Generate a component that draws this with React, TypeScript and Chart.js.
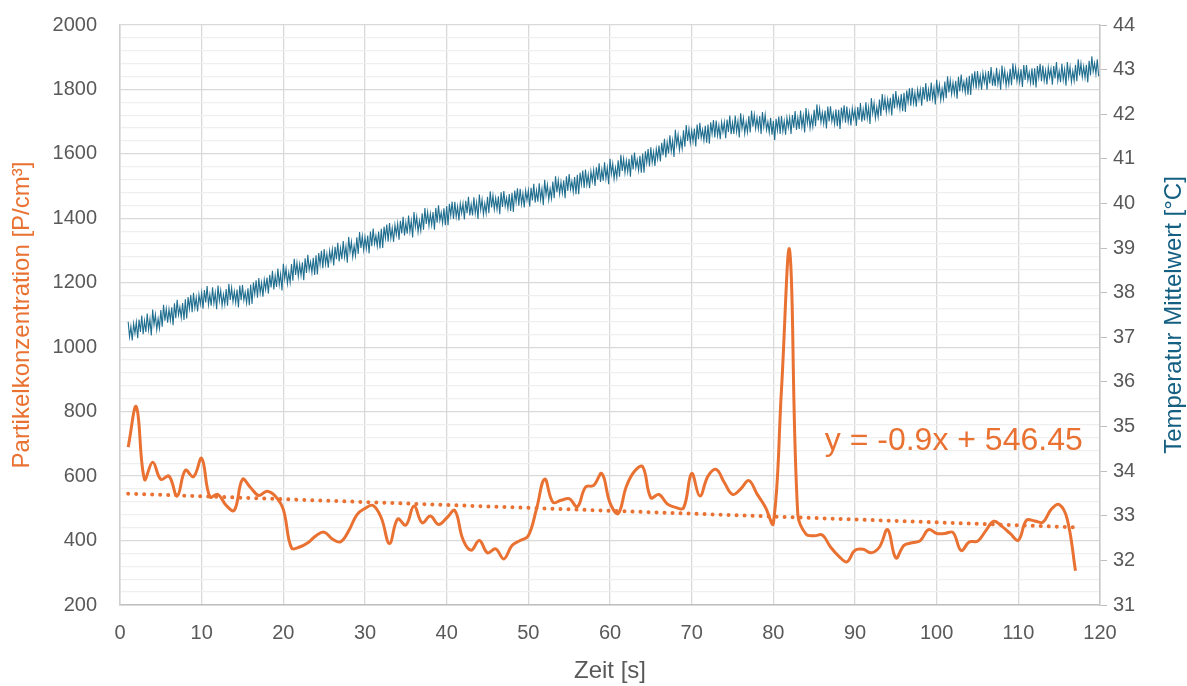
import React, { useEffect, useRef } from 'react';
import { Chart, registerables } from 'chart.js';

Chart.register(...registerables);

// ---------- data ----------
const particleStartSecond = 1;
const particleValues = [
  690, 815, 590, 643, 590, 600, 538, 618, 598, 655,
  536, 543, 509, 494, 590, 564, 540, 553, 538, 496,
  377, 380, 393, 415, 426, 405, 396, 430, 480, 500,
  509, 470, 391, 467, 448, 507, 455, 476, 450, 470,
  493, 403, 370, 400, 362, 374, 343, 385, 400, 415,
  498, 591, 519, 525, 530, 505, 566, 571, 608, 517,
  484, 568, 615, 629, 533, 543, 514, 503, 501, 608,
  538, 600, 621, 580, 543, 560, 586, 545, 505, 453,
  870, 1300, 480, 420, 415, 417, 380, 352, 334, 370,
  373, 362, 380, 434, 346, 385, 393, 400, 434, 422,
  422, 425, 369, 396, 398, 430, 460, 444, 422, 401,
  463, 461, 457, 496, 512, 465, 306,
];

const trendSlope = -0.9;
const trendIntercept = 546.45;
const trendFrom = 1;
const trendTo = 117;
const equationText = 'y = -0.9x + 546.45';

const tempStartSecond = 1;
const tempSamplesPerSecond = 6;
const temperatureValues = [
  37.35, 37.01, 37.24, 36.93, 37.31, 37.09, 37.34, 36.98, 37.40, 37.12, 37.49, 37.07,
  37.37, 37.12, 37.53, 37.17, 37.41, 37.04, 37.62, 37.28, 37.51, 37.17, 37.42, 37.20,
  37.61, 37.24, 37.73, 37.37, 37.64, 37.33, 37.63, 37.38, 37.67, 37.27, 37.76, 37.43,
  37.84, 37.50, 37.68, 37.44, 37.77, 37.39, 37.85, 37.42, 37.90, 37.64, 37.95, 37.56,
  38.00, 37.66, 37.89, 37.58, 37.96, 37.74, 38.00, 37.64, 38.06, 37.78, 38.15, 37.73,
  37.96, 37.71, 38.12, 37.76, 38.00, 37.63, 38.16, 37.82, 38.05, 37.71, 37.96, 37.74,
  38.08, 37.71, 38.20, 37.84, 38.11, 37.80, 38.03, 37.78, 38.07, 37.67, 38.16, 37.83,
  38.17, 37.83, 38.01, 37.77, 38.10, 37.72, 38.18, 37.75, 38.23, 37.97, 38.28, 37.89,
  38.33, 37.99, 38.22, 37.91, 38.29, 38.07, 38.34, 37.98, 38.40, 38.12, 38.49, 38.07,
  38.38, 38.13, 38.54, 38.18, 38.42, 38.05, 38.65, 38.31, 38.54, 38.20, 38.45, 38.23,
  38.64, 38.27, 38.76, 38.40, 38.67, 38.36, 38.64, 38.39, 38.68, 38.28, 38.77, 38.44,
  38.85, 38.51, 38.69, 38.45, 38.78, 38.40, 38.84, 38.41, 38.89, 38.63, 38.94, 38.55,
  38.98, 38.64, 38.87, 38.56, 38.94, 38.72, 38.97, 38.61, 39.03, 38.75, 39.12, 38.70,
  39.00, 38.75, 39.16, 38.80, 39.04, 38.67, 39.25, 38.91, 39.14, 38.80, 39.05, 38.83,
  39.24, 38.87, 39.36, 39.00, 39.27, 38.96, 39.24, 38.99, 39.28, 38.88, 39.37, 39.04,
  39.44, 39.10, 39.28, 39.04, 39.37, 38.99, 39.43, 39.00, 39.48, 39.22, 39.53, 39.14,
  39.56, 39.22, 39.45, 39.14, 39.52, 39.30, 39.55, 39.19, 39.61, 39.33, 39.70, 39.28,
  39.57, 39.32, 39.73, 39.37, 39.61, 39.24, 39.81, 39.47, 39.70, 39.36, 39.61, 39.39,
  39.78, 39.41, 39.90, 39.54, 39.81, 39.50, 39.77, 39.52, 39.81, 39.41, 39.90, 39.57,
  39.96, 39.62, 39.80, 39.56, 39.89, 39.51, 39.94, 39.51, 39.99, 39.73, 40.04, 39.65,
  40.04, 39.70, 39.93, 39.62, 40.00, 39.78, 40.00, 39.64, 40.06, 39.78, 40.15, 39.73,
  39.98, 39.73, 40.14, 39.78, 40.02, 39.65, 40.20, 39.86, 40.09, 39.75, 40.00, 39.78,
  40.15, 39.78, 40.27, 39.91, 40.18, 39.87, 40.12, 39.87, 40.16, 39.76, 40.25, 39.92,
  40.28, 39.94, 40.12, 39.88, 40.21, 39.83, 40.24, 39.81, 40.29, 40.03, 40.34, 39.95,
  40.33, 39.99, 40.22, 39.91, 40.29, 40.07, 40.29, 39.93, 40.35, 40.07, 40.44, 40.02,
  40.29, 40.04, 40.45, 40.09, 40.33, 39.96, 40.53, 40.19, 40.42, 40.08, 40.33, 40.11,
  40.49, 40.12, 40.61, 40.25, 40.52, 40.21, 40.48, 40.23, 40.52, 40.12, 40.61, 40.28,
  40.66, 40.32, 40.50, 40.26, 40.59, 40.21, 40.64, 40.21, 40.69, 40.43, 40.74, 40.35,
  40.76, 40.42, 40.65, 40.34, 40.72, 40.50, 40.75, 40.39, 40.81, 40.53, 40.90, 40.48,
  40.76, 40.51, 40.92, 40.56, 40.80, 40.43, 41.00, 40.66, 40.89, 40.55, 40.80, 40.58,
  40.97, 40.60, 41.09, 40.73, 41.00, 40.69, 40.96, 40.71, 41.00, 40.60, 41.09, 40.76,
  41.14, 40.80, 40.98, 40.74, 41.07, 40.69, 41.12, 40.69, 41.17, 40.91, 41.22, 40.83,
  41.26, 40.92, 41.15, 40.84, 41.22, 41.00, 41.30, 40.94, 41.36, 41.08, 41.45, 41.03,
  41.37, 41.12, 41.53, 41.17, 41.41, 41.04, 41.65, 41.31, 41.54, 41.20, 41.45, 41.23,
  41.64, 41.27, 41.76, 41.40, 41.67, 41.36, 41.64, 41.39, 41.68, 41.28, 41.77, 41.44,
  41.81, 41.47, 41.65, 41.41, 41.74, 41.36, 41.77, 41.34, 41.82, 41.56, 41.87, 41.48,
  41.86, 41.52, 41.75, 41.44, 41.82, 41.60, 41.82, 41.46, 41.88, 41.60, 41.97, 41.55,
  41.81, 41.56, 41.97, 41.61, 41.85, 41.48, 42.02, 41.68, 41.91, 41.57, 41.82, 41.60,
  41.96, 41.59, 42.08, 41.72, 41.99, 41.68, 41.92, 41.67, 41.96, 41.56, 42.05, 41.72,
  41.99, 41.65, 41.83, 41.59, 41.92, 41.54, 41.85, 41.42, 41.90, 41.64, 41.95, 41.56,
  41.96, 41.62, 41.85, 41.54, 41.92, 41.70, 41.92, 41.56, 41.98, 41.70, 42.07, 41.65,
  41.92, 41.67, 42.08, 41.72, 41.96, 41.59, 42.14, 41.80, 42.03, 41.69, 41.94, 41.72,
  42.10, 41.73, 42.22, 41.86, 42.13, 41.82, 42.04, 41.79, 42.08, 41.68, 42.17, 41.84,
  42.18, 41.84, 42.02, 41.78, 42.11, 41.73, 42.10, 41.67, 42.15, 41.89, 42.20, 41.81,
  42.17, 41.83, 42.06, 41.75, 42.13, 41.91, 42.10, 41.74, 42.16, 41.88, 42.25, 41.83,
  42.11, 41.86, 42.27, 41.91, 42.15, 41.78, 42.36, 42.02, 42.25, 41.91, 42.16, 41.94,
  42.33, 41.96, 42.45, 42.09, 42.36, 42.05, 42.33, 42.08, 42.37, 41.97, 42.46, 42.13,
  42.52, 42.18, 42.36, 42.12, 42.45, 42.07, 42.48, 42.05, 42.53, 42.27, 42.58, 42.19,
  42.59, 42.25, 42.48, 42.17, 42.55, 42.33, 42.55, 42.19, 42.61, 42.33, 42.70, 42.28,
  42.55, 42.30, 42.71, 42.35, 42.59, 42.22, 42.77, 42.43, 42.66, 42.32, 42.57, 42.35,
  42.73, 42.36, 42.85, 42.49, 42.76, 42.45, 42.71, 42.46, 42.75, 42.35, 42.84, 42.51,
  42.89, 42.55, 42.73, 42.49, 42.82, 42.44, 42.86, 42.43, 42.91, 42.65, 42.96, 42.57,
  42.97, 42.63, 42.86, 42.55, 42.93, 42.71, 42.91, 42.55, 42.97, 42.69, 43.06, 42.64,
  42.88, 42.63, 43.04, 42.68, 42.92, 42.55, 43.09, 42.75, 42.98, 42.64, 42.89, 42.67,
  43.02, 42.65, 43.14, 42.78, 43.05, 42.74, 42.97, 42.72, 43.01, 42.61, 43.10, 42.77,
  43.10, 42.76, 42.94, 42.70, 43.03, 42.65, 43.03, 42.60, 43.08, 42.82, 43.13, 42.74,
  43.09, 42.75, 42.98, 42.67, 43.05, 42.83, 43.02, 42.66, 43.08, 42.80, 43.17, 42.75,
  42.97, 42.72, 43.13, 42.77, 43.01, 42.64, 43.17, 42.83, 43.06, 42.72, 42.97, 42.75,
  43.11, 42.74, 43.23, 42.87, 43.14, 42.83, 43.07, 42.82, 43.11, 42.71, 43.20, 42.87,
  43.30, 42.96, 43.14, 42.90, 43.23, 42.85,
];

const xMin = 0;
const xMax = 120;
const xStep = 10;
const leftMin = 200;
const leftMax = 2000;
const leftMinorStep = 40;
const leftLabelStep = 200;
const rightMin = 31;
const rightMax = 44;
const rightStep = 1;

const xTitle = 'Zeit [s]';
const leftTitle = 'Partikelkonzentration [P/cm³]';
const rightTitle = 'Temperatur Mittelwert [°C]';

// ---------- styles ----------
const ORANGE = '#E97132';
const BLUE = '#1F6E8F';
const BLUE_TITLE = '#156082';
const TICK = '#595959';
const FONT = '"Liberation Sans", Arial, sans-serif';

const titlesPlugin = {
  id: 'customTitles',
  afterDatasetsDraw(chart: any) {
    const { ctx } = chart;
    const xs = chart.scales.x;
    const ys = chart.scales.y;
    ctx.save();
    ctx.font = `32px ${FONT}`;
    ctx.fillStyle = ORANGE;
    ctx.textAlign = 'left';
    ctx.textBaseline = 'middle';
    ctx.fillText(equationText, xs.getPixelForValue(86.3), ys.getPixelForValue(708));
    ctx.restore();
  },
  afterDraw(chart: any) {
    const { ctx, chartArea } = chart;
    const cy = (chartArea.top + chartArea.bottom) / 2;
    ctx.save();
    ctx.font = `24px ${FONT}`;
    ctx.textAlign = 'center';
    ctx.textBaseline = 'middle';
    ctx.save();
    ctx.translate(22, cy);
    ctx.rotate(-Math.PI / 2);
    ctx.fillStyle = ORANGE;
    ctx.fillText(leftTitle, 0, 0);
    ctx.restore();
    ctx.save();
    ctx.translate(1174, cy);
    ctx.rotate(-Math.PI / 2);
    ctx.fillStyle = BLUE_TITLE;
    ctx.fillText(rightTitle, 0, 0);
    ctx.restore();
    ctx.restore();
  },
};

export default function App() {
  const canvasRef = useRef<HTMLCanvasElement | null>(null);

  useEffect(() => {
    if (!canvasRef.current) return;
    const particleData = particleValues.map((v, i) => ({ x: particleStartSecond + i, y: v }));
    const tempData = temperatureValues.map((v, i) => ({ x: tempStartSecond + i / tempSamplesPerSecond, y: v }));
    const trendData = [
      { x: trendFrom, y: trendSlope * trendFrom + trendIntercept },
      { x: trendTo, y: trendSlope * trendTo + trendIntercept },
    ];

    const chart = new Chart(canvasRef.current, {
      type: 'line',
      data: {
        datasets: [
          {
            label: 'Temperatur',
            data: tempData,
            yAxisID: 'y2',
            borderColor: BLUE,
            borderWidth: 1.1,
            pointRadius: 0,
            tension: 0,
          },
          {
            label: 'Trend',
            data: trendData,
            yAxisID: 'y',
            borderColor: ORANGE,
            borderWidth: 4,
            borderDash: [0.01, 8],
            borderCapStyle: 'round',
            pointRadius: 0,
          },
          {
            label: 'Partikel',
            data: particleData,
            yAxisID: 'y',
            borderColor: ORANGE,
            borderWidth: 3,
            pointRadius: 0,
            tension: 0.4,
          },
        ],
      },
      options: {
        animation: false,
        responsive: false,
        layout: { padding: { top: 25, left: 0, right: 0, bottom: 0 } },
        plugins: { legend: { display: false }, tooltip: { enabled: false } },
        scales: {
          x: {
            type: 'linear',
            min: xMin,
            max: xMax,
            ticks: { stepSize: xStep, color: TICK, font: { size: 20, family: FONT }, padding: 16, maxRotation: 0 },
            grid: { color: '#d9d9d9', lineWidth: 1.3, drawTicks: false },
            border: { display: true, color: '#bfbfbf', width: 1.5 },
            title: { display: true, text: xTitle, color: TICK, font: { size: 24, family: FONT }, padding: { top: 0, bottom: 0 } },
            afterFit: (s: any) => { s.height = 81; },
          },
          y: {
            type: 'linear',
            position: 'left',
            min: leftMin,
            max: leftMax,
            ticks: {
              stepSize: leftMinorStep,
              autoSkip: false,
              color: TICK,
              font: { size: 20, family: FONT },
              padding: 13,
              callback: (v: any) => (Math.round(v) % leftLabelStep === 0 ? String(v) : ''),
            },
            grid: {
              drawTicks: true,
              tickLength: 10,
              tickColor: 'rgba(0,0,0,0)',
              lineWidth: 1.3,
              color: (c: any) => (c.tick && Math.round(c.tick.value) % leftLabelStep === 0 ? '#d9d9d9' : '#efefef'),
            },
            border: { display: true, color: '#d0d0d0', width: 1.5 },
            afterFit: (s: any) => { s.width = 120; },
          },
          y2: {
            type: 'linear',
            position: 'right',
            min: rightMin,
            max: rightMax,
            ticks: { stepSize: rightStep, color: TICK, font: { size: 20, family: FONT }, padding: 6 },
            grid: { drawOnChartArea: false, drawTicks: true, tickLength: 7, tickColor: '#bfbfbf', color: '#bfbfbf' },
            border: { display: true, color: '#c8c8c8', width: 1.5 },
            afterFit: (s: any) => { s.width = 87; },
          },
        },
      },
      plugins: [titlesPlugin],
    } as any);
    return () => chart.destroy();
  }, []);

  return (
    <div style={{ position: 'absolute', left: 0, top: 0, width: 1187, height: 686, background: '#fff' }}>
      <canvas ref={canvasRef} width={1187} height={686} style={{ display: 'block' }} />
    </div>
  );
}
